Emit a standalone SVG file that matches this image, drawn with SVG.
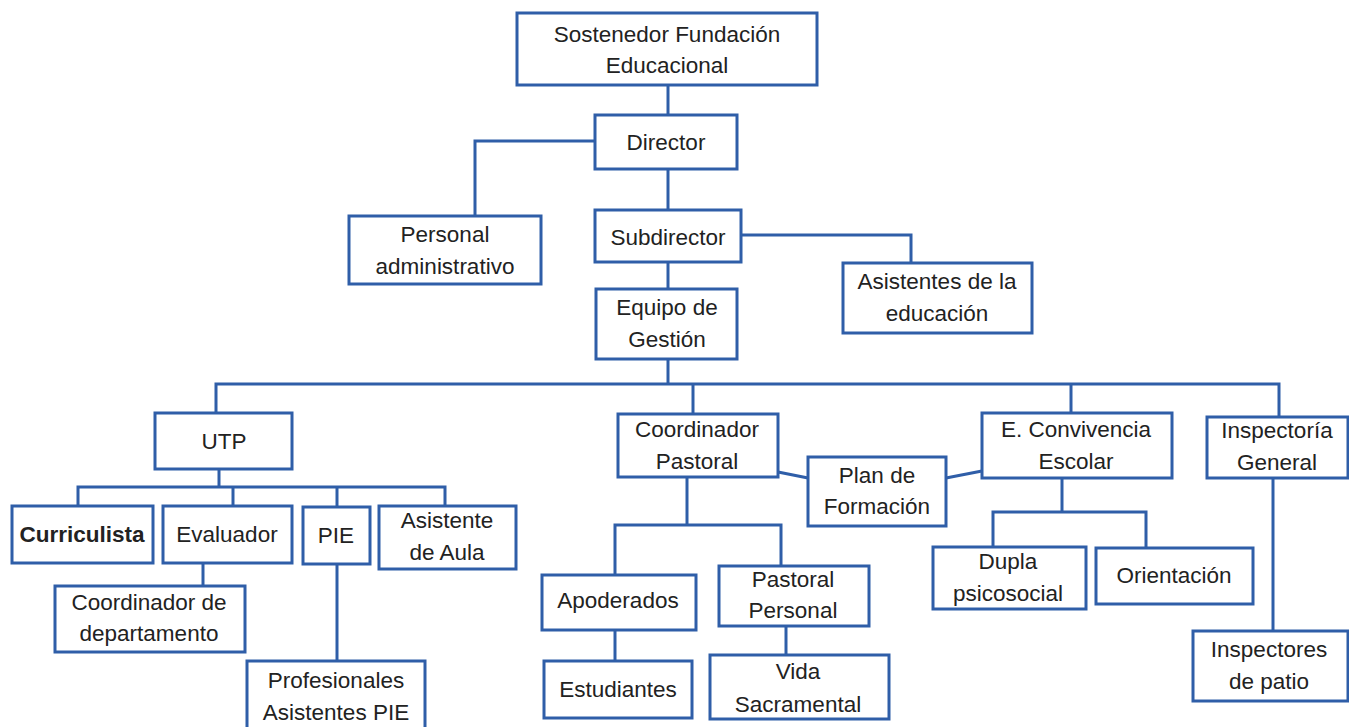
<svg xmlns="http://www.w3.org/2000/svg" width="1349" height="727" viewBox="0 0 1349 727">
<style>
.b{fill:#fff;stroke:#2f5ea8;stroke-width:3}
.c{fill:none;stroke:#2f5ea8;stroke-width:3}
text{font-family:"Liberation Sans",Arial,sans-serif;font-size:22.5px;fill:#222;text-anchor:middle}
.bold{font-weight:bold}
</style>
<rect width="1349" height="727" fill="#fff"/>
<g id="connectors">
<path class="c" d="M668 85V115"/>
<path class="c" d="M595 141H475V216"/>
<path class="c" d="M668 169V210"/>
<path class="c" d="M741 235H911V263"/>
<path class="c" d="M668 262V289"/>
<path class="c" d="M668 359V384"/>
<path class="c" d="M216 413V384H1279V417"/>
<path class="c" d="M693 384V414"/>
<path class="c" d="M1071 384V413"/>
<path class="c" d="M219 469V487"/>
<path class="c" d="M78 506V487H445V506"/>
<path class="c" d="M233 487V506"/>
<path class="c" d="M337 487V507"/>
<path class="c" d="M203 563V586"/>
<path class="c" d="M337 564V661"/>
<path class="c" d="M778 472L808 478"/>
<path class="c" d="M946 478L982 471"/>
<path class="c" d="M687 477V525"/>
<path class="c" d="M615 575V525H781V566"/>
<path class="c" d="M615 630V661"/>
<path class="c" d="M786 626V655"/>
<path class="c" d="M1062 478V512"/>
<path class="c" d="M993 547V512H1146V548"/>
<path class="c" d="M1273 478V631"/>
</g>
<g id="sostenedor"><rect class="b" x="517" y="13" width="300" height="72"/><text x="667" y="42">Sostenedor Fundación</text><text x="667" y="73">Educacional</text></g>
<g id="director"><rect class="b" x="595" y="115" width="142" height="54"/><text x="666" y="150">Director</text></g>
<g id="personal-administrativo"><rect class="b" x="349" y="216" width="192" height="68"/><text x="445" y="242">Personal</text><text x="445" y="274">administrativo</text></g>
<g id="subdirector"><rect class="b" x="595" y="210" width="146" height="52"/><text x="668" y="245">Subdirector</text></g>
<g id="asistentes-educacion"><rect class="b" x="843" y="263" width="189" height="70"/><text x="937" y="289">Asistentes de la</text><text x="937" y="321">educación</text></g>
<g id="equipo-gestion"><rect class="b" x="596" y="289" width="141" height="70"/><text x="667" y="315">Equipo de</text><text x="667" y="347">Gestión</text></g>
<g id="utp"><rect class="b" x="155" y="413" width="137" height="56"/><text x="224" y="449">UTP</text></g>
<g id="curriculista"><rect class="b" x="12" y="506" width="141" height="57"/><text class="bold" x="82" y="542">Curriculista</text></g>
<g id="evaluador"><rect class="b" x="163" y="506" width="129" height="57"/><text x="227" y="542">Evaluador</text></g>
<g id="pie"><rect class="b" x="303" y="507" width="67" height="57"/><text x="336" y="543">PIE</text></g>
<g id="asistente-aula"><rect class="b" x="379" y="506" width="137" height="63"/><text x="447" y="528">Asistente</text><text x="447" y="560">de Aula</text></g>
<g id="coordinador-departamento"><rect class="b" x="55" y="586" width="190" height="66"/><text x="149" y="610">Coordinador de</text><text x="149" y="641">departamento</text></g>
<g id="profesionales-pie"><rect class="b" x="247" y="661" width="178" height="70"/><text x="336" y="688">Profesionales</text><text x="336" y="720">Asistentes PIE</text></g>
<g id="coordinador-pastoral"><rect class="b" x="618" y="414" width="160" height="63"/><text x="697" y="437">Coordinador</text><text x="697" y="469">Pastoral</text></g>
<g id="plan-formacion"><rect class="b" x="808" y="457" width="138" height="69"/><text x="877" y="483">Plan de</text><text x="877" y="514">Formación</text></g>
<g id="apoderados"><rect class="b" x="542" y="575" width="154" height="55"/><text x="618" y="608">Apoderados</text></g>
<g id="pastoral-personal"><rect class="b" x="719" y="566" width="150" height="60"/><text x="793" y="587">Pastoral</text><text x="793" y="618">Personal</text></g>
<g id="estudiantes"><rect class="b" x="544" y="661" width="148" height="57"/><text x="618" y="697">Estudiantes</text></g>
<g id="vida-sacramental"><rect class="b" x="710" y="655" width="179" height="64"/><text x="798" y="679">Vida</text><text x="798" y="712">Sacramental</text></g>
<g id="convivencia-escolar"><rect class="b" x="982" y="413" width="190" height="65"/><text x="1076" y="437">E. Convivencia</text><text x="1076" y="469">Escolar</text></g>
<g id="inspectoria-general"><rect class="b" x="1207" y="417" width="141" height="61"/><text x="1277" y="438">Inspectoría</text><text x="1277" y="470">General</text></g>
<g id="dupla-psicosocial"><rect class="b" x="933" y="547" width="153" height="62"/><text x="1008" y="569">Dupla</text><text x="1008" y="601">psicosocial</text></g>
<g id="orientacion"><rect class="b" x="1096" y="548" width="157" height="56"/><text x="1174" y="583">Orientación</text></g>
<g id="inspectores-patio"><rect class="b" x="1193" y="631" width="155" height="70"/><text x="1269" y="657">Inspectores</text><text x="1269" y="689">de patio</text></g>
</svg>
